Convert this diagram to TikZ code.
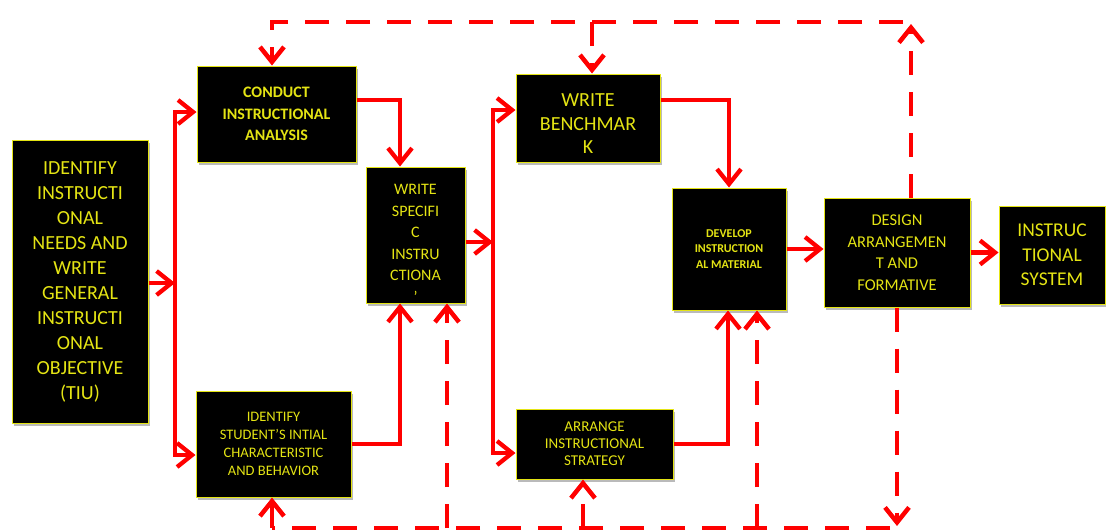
\documentclass[tikz,border=0pt]{standalone}
\usepackage{fontspec}
\setmainfont{Carlito}
\usetikzlibrary{arrows.meta,shadows}

\definecolor{boxtext}{RGB}{228,228,20}
\definecolor{flowred}{RGB}{255,0,0}

\tikzset{
  stage/.style={draw=boxtext,line width=1pt,fill=black,text=boxtext,align=center,inner sep=0pt,
    drop shadow={shadow xshift=1.5pt,shadow yshift=-2.5pt,fill=black!45,opacity=.6}},
  tip/.style={-{Straight Barb[length=15pt,width=24pt]}},
  flow/.style={draw=flowred,line width=4.3pt,tip},
  bus/.style={draw=flowred,line width=4.3pt,line cap=rect},
  feedback/.style={draw=flowred,line width=4.5pt,dash pattern=on 24pt off 17pt},
}

\begin{document}
\begin{tikzpicture}[x=1pt,y=-1pt]
  \useasboundingbox (0,0) rectangle (1106,531);

  % stages
  \node[stage,minimum width=136,minimum height=283,font=\fontsize{20}{25}\selectfont] (tiu) at (80,281.5)
    {IDENTIFY\\INSTRUCTI\\ONAL\\NEEDS AND\\WRITE\\GENERAL\\INSTRUCTI\\ONAL\\OBJECTIVE\\(TIU)};
  \node[stage,minimum width=159,minimum height=96,font=\bfseries\fontsize{16}{21.5}\selectfont] (conduct) at (276.5,114)
    {CONDUCT\\INSTRUCTIONAL\\ANALYSIS};
  \node[stage,minimum width=155,minimum height=106,font=\fontsize{14.5}{18}\selectfont] (student) at (273.5,444)
    {IDENTIFY\\STUDENT'S INTIAL\\CHARACTERISTIC\\AND BEHAVIOR};
  \node[stage,minimum width=99,minimum height=136,font=\fontsize{16}{21.5}\selectfont] (specific) at (415.5,235)
    {\rule{0pt}{27pt}WRITE\\SPECIFI\\C\\INSTRU\\CTIONA\\'};
  \node[stage,minimum width=144,minimum height=88,font=\fontsize{20}{23.5}\selectfont] (benchmark) at (588,118)
    {\rule{0pt}{24pt}WRITE\\BENCHMAR\\K};
  \node[stage,minimum width=157,minimum height=70,font=\fontsize{15}{17}\selectfont] (arrange) at (594.5,444)
    {ARRANGE\\INSTRUCTIONAL\\STRATEGY};
  \node[stage,minimum width=114,minimum height=122,font=\bfseries\fontsize{12}{15.5}\selectfont] (develop) at (729,249)
    {DEVELOP\\INSTRUCTION\\AL MATERIAL};
  \node[stage,minimum width=146,minimum height=109,font=\fontsize{16.5}{21.5}\selectfont] (design) at (897,252.5)
    {DESIGN\\ARRANGEMEN\\T AND\\FORMATIVE};
  \node[stage,minimum width=106,minimum height=98,font=\fontsize{19.5}{24.5}\selectfont] (system) at (1052,255)
    {INSTRUC\\TIONAL\\SYSTEM};

  % split points
  \coordinate (busAtop) at (175,112);
  \coordinate (busAbot) at (175,455);
  \coordinate (busAin) at (175,283);
  \coordinate (busBtop) at (493,110);
  \coordinate (busBbot) at (493,453);
  \coordinate (busBin) at (493,242);

  \draw[bus] (busAtop) -- (busAbot);
  \draw[bus] (busBtop) -- (busBbot);

  % main flow
  \draw[flow] (tiu.east |- busAin) -- (busAin);
  \draw[flow] (busAtop) -- (busAtop -| conduct.west);
  \draw[flow] (busAbot) -- (busAbot -| student.west);
  \draw[flow] ([yshift=14]conduct.east) -| ([xshift=-15.5]specific.north);
  \draw[flow] (student.east) -| ([xshift=-15.5]specific.south);
  \draw[flow] (specific.east |- busBin) -- (busBin);
  \draw[flow] (busBtop) -- (busBtop -| benchmark.west);
  \draw[flow] (busBbot) -- (busBbot -| arrange.west);
  \draw[flow] ([yshift=18]benchmark.east) -| (develop.north);
  \draw[flow] (arrange.east) -| ([xshift=-1]develop.south);
  \draw[flow] (develop.east) -- (develop.east -| design.west);
  \draw[flow] (design.east) -- (design.east -| system.west);

  % feedback, top
  \coordinate (topR) at (911,24);
  \coordinate (topRr) at (903,22);
  \coordinate (topL) at (272,22);
  \coordinate (topM) at (592,22);
  \draw[feedback,tip] (design.north -| topR) -- (topR);
  \draw[feedback,tip] (topRr) -- (topL) -- (topL |- conduct.north);
  \draw[feedback,tip] (topM) -- (topM |- benchmark.north);

  % feedback, bottom
  \coordinate (botR) at (897,526);
  \coordinate (botRr) at (890,528);
  \coordinate (botL) at (272,528);
  \coordinate (botA) at (447,528);
  \coordinate (botB) at (583,528);
  \coordinate (botC) at (757,528);
  \draw[feedback,tip] (design.south) -- (botR);
  \draw[feedback] (botRr) -- (botL);
  \draw[feedback,tip] (botL) -- (botL |- student.south);
  \foreach \from/\to in {botA/specific,botB/arrange,botC/develop}
    \draw[feedback,tip] (\from) -- (\from |- \to.south);
\end{tikzpicture}
\end{document}
